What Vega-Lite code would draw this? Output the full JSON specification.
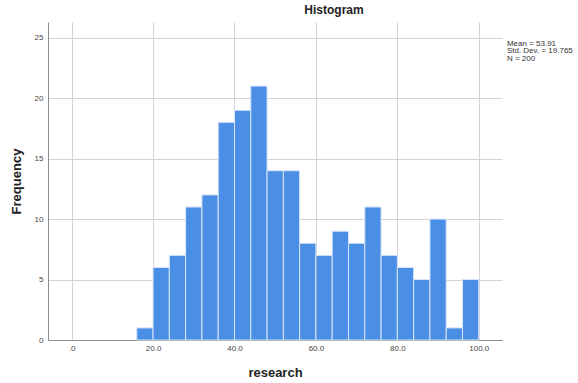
{
  "$schema": "https://vega.github.io/schema/vega-lite/v6.json",
  "width": 454,
  "height": 318,
  "autosize": {"type": "none"},
  "padding": {"left": 48, "top": 22, "right": 76, "bottom": 43},
  "background": "#ffffff",
  "config": {
    "font": "Liberation Sans",
    "view": {"stroke": null},
    "axis": {
      "domainColor": "#8c8c8c",
      "gridColor": "#d4d4d4",
      "gridWidth": 1,
      "labelColor": "#444444",
      "labelFontSize": 8,
      "titleColor": "#222222",
      "titleFontSize": 13,
      "titleFontWeight": "bold",
      "ticks": false
    }
  },
  "title": {
    "text": "Histogram",
    "fontSize": 12,
    "fontWeight": "bold",
    "color": "#222222",
    "anchor": "middle",
    "dx": 59,
    "offset": 5
  },
  "datasets": {
    "bins": [
      {"bin_start": 16, "bin_end": 20, "count": 1},
      {"bin_start": 20, "bin_end": 24, "count": 6},
      {"bin_start": 24, "bin_end": 28, "count": 7},
      {"bin_start": 28, "bin_end": 32, "count": 11},
      {"bin_start": 32, "bin_end": 36, "count": 12},
      {"bin_start": 36, "bin_end": 40, "count": 18},
      {"bin_start": 40, "bin_end": 44, "count": 19},
      {"bin_start": 44, "bin_end": 48, "count": 21},
      {"bin_start": 48, "bin_end": 52, "count": 14},
      {"bin_start": 52, "bin_end": 56, "count": 14},
      {"bin_start": 56, "bin_end": 60, "count": 8},
      {"bin_start": 60, "bin_end": 64, "count": 7},
      {"bin_start": 64, "bin_end": 68, "count": 9},
      {"bin_start": 68, "bin_end": 72, "count": 8},
      {"bin_start": 72, "bin_end": 76, "count": 11},
      {"bin_start": 76, "bin_end": 80, "count": 7},
      {"bin_start": 80, "bin_end": 84, "count": 6},
      {"bin_start": 84, "bin_end": 88, "count": 5},
      {"bin_start": 88, "bin_end": 92, "count": 10},
      {"bin_start": 92, "bin_end": 96, "count": 1},
      {"bin_start": 96, "bin_end": 100, "count": 5}
    ],
    "stats": [
      {"label": ["Mean = 53.91", "Std. Dev. = 19.765", "N = 200"]}
    ]
  },
  "layer": [
    {
      "data": {"name": "bins"},
      "mark": {"type": "bar", "orient": "vertical", "color": "#4a8ee6", "stroke": "#d8e6f8", "strokeWidth": 1},
      "encoding": {
        "x": {
          "field": "bin_start",
          "type": "quantitative",
          "scale": {"domain": [-5.8, 105.7], "nice": false, "zero": false, "padding": 0},
          "axis": {
            "title": "research",
            "values": [0, 20, 40, 60, 80, 100],
            "labelExpr": "datum.value == 0 ? '.0' : format(datum.value, '.1f')",
            "labelPadding": 4,
            "titlePadding": 14
          }
        },
        "x2": {"field": "bin_end"},
        "y": {
          "field": "count",
          "type": "quantitative",
          "scale": {"domain": [0, 26.3], "nice": false, "padding": 0},
          "axis": {
            "title": "Frequency",
            "values": [0, 5, 10, 15, 20, 25],
            "labelPadding": 5,
            "titlePadding": 11
          }
        },
        "y2": {"datum": 0}
      }
    },
    {
      "data": {"name": "stats"},
      "mark": {"type": "text", "align": "left", "baseline": "top", "fontSize": 8, "lineHeight": 7.5, "color": "#333333", "clip": false},
      "encoding": {
        "x": {"datum": 106.9, "type": "quantitative"},
        "y": {"datum": 24.85, "type": "quantitative"},
        "text": {"field": "label"}
      }
    }
  ]
}
